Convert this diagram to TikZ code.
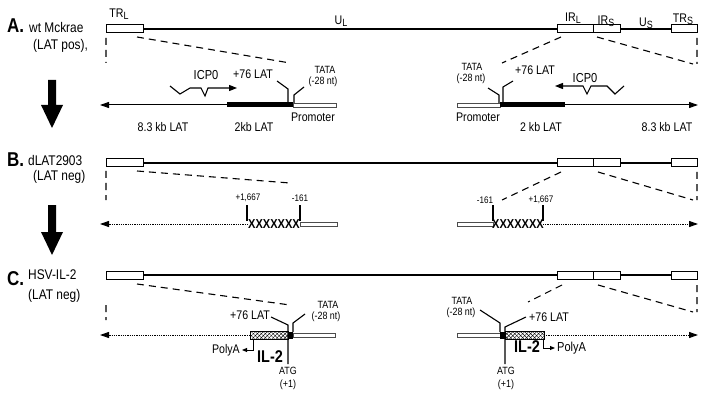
\documentclass[tikz,border=0pt]{standalone}
\usepackage{fontspec}
\setmainfont{Liberation Sans}[FakeStretch=0.85]
\usetikzlibrary{arrows.meta,patterns.meta}
\newcommand{\fs}[1]{\fontsize{#1}{#1}\selectfont}
\newcommand{\lowsub}[1]{\raisebox{-0.35ex}{\fs{10.5}#1}}

\begin{document}
\begin{tikzpicture}[x=1pt,y=-1pt,
    genome/.style={line width=1.3pt},
    segbox/.style={draw,line width=1pt,fill=white},
    proj/.style={line width=1.1pt,dash pattern=on 7pt off 5pt},
    lat/.style={line width=1pt,-{Triangle[length=9pt,width=6pt]}},
    latdot/.style={lat,dash pattern=on 1pt off 0.8pt},
    prom/.style={draw=black!70,line width=0.6pt,fill=white},
    lead/.style={line width=1.1pt},
    wave/.style={line width=1.1pt,-{Triangle[length=8pt,width=6pt]}},
    poly/.style={line width=1pt,-{Triangle[length=5pt,width=4pt]}},
    hatch/.style={draw,line width=0.5pt,
        pattern={Lines[angle=45,distance=2.8pt,line width=0.45pt]},
        preaction={pattern={Lines[angle=-45,distance=2.8pt,line width=0.45pt]}}},
    txt/.style={inner sep=0pt,font=\fs{12.5}},
    smalltxt/.style={inner sep=0pt,font=\fs{10.5}},
    tinytxt/.style={inner sep=0pt,font=\fs{9.5}},
    xbox/.style={inner sep=0pt,font=\bfseries\fs{13}},
    gene/.style={inner sep=0pt,font=\bfseries\fs{17}},
    bigletter/.style={inner sep=0pt,font=\bfseries\fs{20},anchor=base west},
    strain/.style={inner sep=0pt,font=\fs{14},anchor=base west}]
\useasboundingbox (0,0) rectangle (707,401);

\foreach \y in {29,163,275}{
    \draw[genome] (143,\y) -- (557,\y) (620,\y) -- (671,\y);
    \draw[segbox] (106,\y-4) rectangle (143,\y+4);
    \draw[segbox] (557,\y-4) rectangle (593,\y+4);
    \draw[segbox] (593,\y-4) rectangle (620,\y+4);
    \draw[segbox] (671,\y-4) rectangle (697,\y+4);
}

\node[txt] (trl) at (119,14) {TR\lowsub{L}};
\node[txt] (ul) at (341,21) {U\lowsub{L}};
\node[txt] (irl) at (573,18) {IR\lowsub{L}};
\node[txt] (irs) at (606,21) {IR\lowsub{S}};
\node[txt] (us) at (646,23) {U\lowsub{S}};
\node[txt] (trs) at (683,19) {TR\lowsub{S}};

\draw[proj] (106,38) -- (106,63) (137,37) -- (290,63)
    (561,37) -- (502,63) (597,37) -- (693,64) (697,38) -- (697,64);
\draw[proj] (106,171) -- (106,200) (137,171) -- (290,183)
    (561,172) -- (502,200) (598,172) -- (693,200) (697,172) -- (697,200);
\draw[proj] (106,305) -- (106,320) (137,284) -- (290,305)
    (562,285) -- (528,302) (598,285) -- (693,312) (697,285) -- (697,312);

\node[bigletter] (la) at (7,33) {A.};
\node[strain] (sa1) at (29,33) {wt Mckrae};
\node[strain] (sa2) at (33,50) {(LAT pos),};
\node[bigletter] (lb) at (7,167) {B.};
\node[strain] (sb1) at (28,165) {dLAT2903};
\node[strain] (sb2) at (33,181) {(LAT neg)};
\node[bigletter] (lc) at (7,285) {C.};
\node[strain] (sc1) at (28,279) {HSV-IL-2};
\node[strain] (sc2) at (28,299) {(LAT neg)};

\foreach \t/\b in {80/128,205/255}
    \fill (48,\t) -- (56,\t) -- (56,\b-23) -- (63,\b-23) -- (52,\b)
        -- (41,\b-23) -- (48,\b-23) -- cycle;

\draw[lat] (227,105) -- (100,105);
\fill (227,102.5) rectangle (293,107.5);
\draw[prom] (293,103) rectangle (336,107);
\draw[lead] (277,81) -- (288,89) -- (288,103);
\draw[lead] (304,87) -- (294,95) -- (294,103);
\draw[wave] (170,86) -- (180,94) -- (190,88) -- (201,88) -- (205,96)
    -- (208,88) -- (237,88);
\node[txt] (p76a) at (253,74) {+76 LAT};
\node[smalltxt] (tata1) at (325,70) {TATA};
\node[smalltxt] (nt1) at (323,82) {(-28 nt)};
\node[txt,font=\fs{13}] (icp1) at (206,75) {ICP0};
\node[txt] (lat83a) at (163,127) {8.3 kb LAT};
\node[txt] (lat2a) at (254,127) {2kb LAT};
\node[txt] (proma) at (313,117) {Promoter};

\draw[prom] (457,103) rectangle (500,107);
\fill (500,102.5) rectangle (565,107.5);
\draw[lat] (565,105) -- (698,105);
\draw[lead] (488,88) -- (499,95) -- (499,103);
\draw[lead] (513,81) -- (503,87) -- (503,103);
\draw[wave] (624,86) -- (615,94) -- (607,86) -- (591,86) -- (587,94)
    -- (583,86) -- (555,86);
\node[smalltxt] (tata2) at (472,67) {TATA};
\node[smalltxt] (nt2) at (471,79) {(-28 nt)};
\node[txt] (p76b) at (535,70) {+76 LAT};
\node[txt,font=\fs{13}] (icp2) at (585,78) {ICP0};
\node[txt] (promb) at (478,117) {Promoter};
\node[txt] (lat2b) at (541,127) {2 kb LAT};
\node[txt] (lat83b) at (667,127) {8.3 kb LAT};

\draw[latdot] (248,224) -- (100,224);
\draw[prom] (300,222) rectangle (337,226);
\draw[lead] (247,205) -- (247,221) (300,205) -- (300,221);
\node[xbox] (xa) at (274,224) {XXXXXXX};
\node[tinytxt] (pa) at (248,198) {+1,667};
\node[tinytxt] (ma) at (300,198) {-161};

\draw[prom] (457,222) rectangle (493,226);
\draw[latdot] (543,224) -- (698,224);
\draw[lead] (493,205) -- (493,221) (543,205) -- (543,221);
\node[xbox] (xb) at (518,224) {XXXXXXX};
\node[tinytxt] (mb) at (485,200) {-161};
\node[tinytxt] (pb) at (541,200) {+1,667};

\draw[latdot] (250,335) -- (100,335);
\draw[hatch] (250,331) rectangle (288,339);
\fill (288,332) rectangle (293,339);
\draw[prom] (293,333) rectangle (335,337.5);
\draw[lead] (271,317) -- (288,325) -- (288,364);
\draw[lead] (305,314) -- (293,323) -- (293,332);
\draw[poly] (253,339) -- (253,350) -- (242,350);
\node[txt] (p76c) at (250,315) {+76 LAT};
\node[smalltxt] (tata3) at (328,305) {TATA};
\node[smalltxt] (nt3) at (326,317) {(-28 nt)};
\node[smalltxt] (atg1) at (288,371) {ATG};
\node[smalltxt] (one1) at (288,385) {(+1)};
\node[gene] (il2a) at (270,357) {IL-2};
\node[txt,anchor=east] (polya1) at (240,350) {PolyA};

\draw[prom] (457,333) rectangle (500,337.5);
\fill (500,332) rectangle (505,339);
\draw[hatch] (505,331) rectangle (544,339);
\draw[latdot] (544,335) -- (698,335);
\draw[lead] (480,310) -- (500,323) -- (500,332);
\draw[lead] (526,317) -- (505,327) -- (505,364);
\draw[poly] (543,339) -- (543,348) -- (555,348);
\node[smalltxt] (tata4) at (462,301) {TATA};
\node[smalltxt] (nt4) at (461,313) {(-28 nt)};
\node[txt] (p76d) at (549,317) {+76 LAT};
\node[smalltxt] (atg2) at (506,371) {ATG};
\node[smalltxt] (one2) at (506,385) {(+1)};
\node[gene] (il2b) at (527,347) {IL-2};
\node[txt,anchor=west,font=\fs{13}] (polya2) at (557,348) {PolyA};
\end{tikzpicture}
\end{document}
